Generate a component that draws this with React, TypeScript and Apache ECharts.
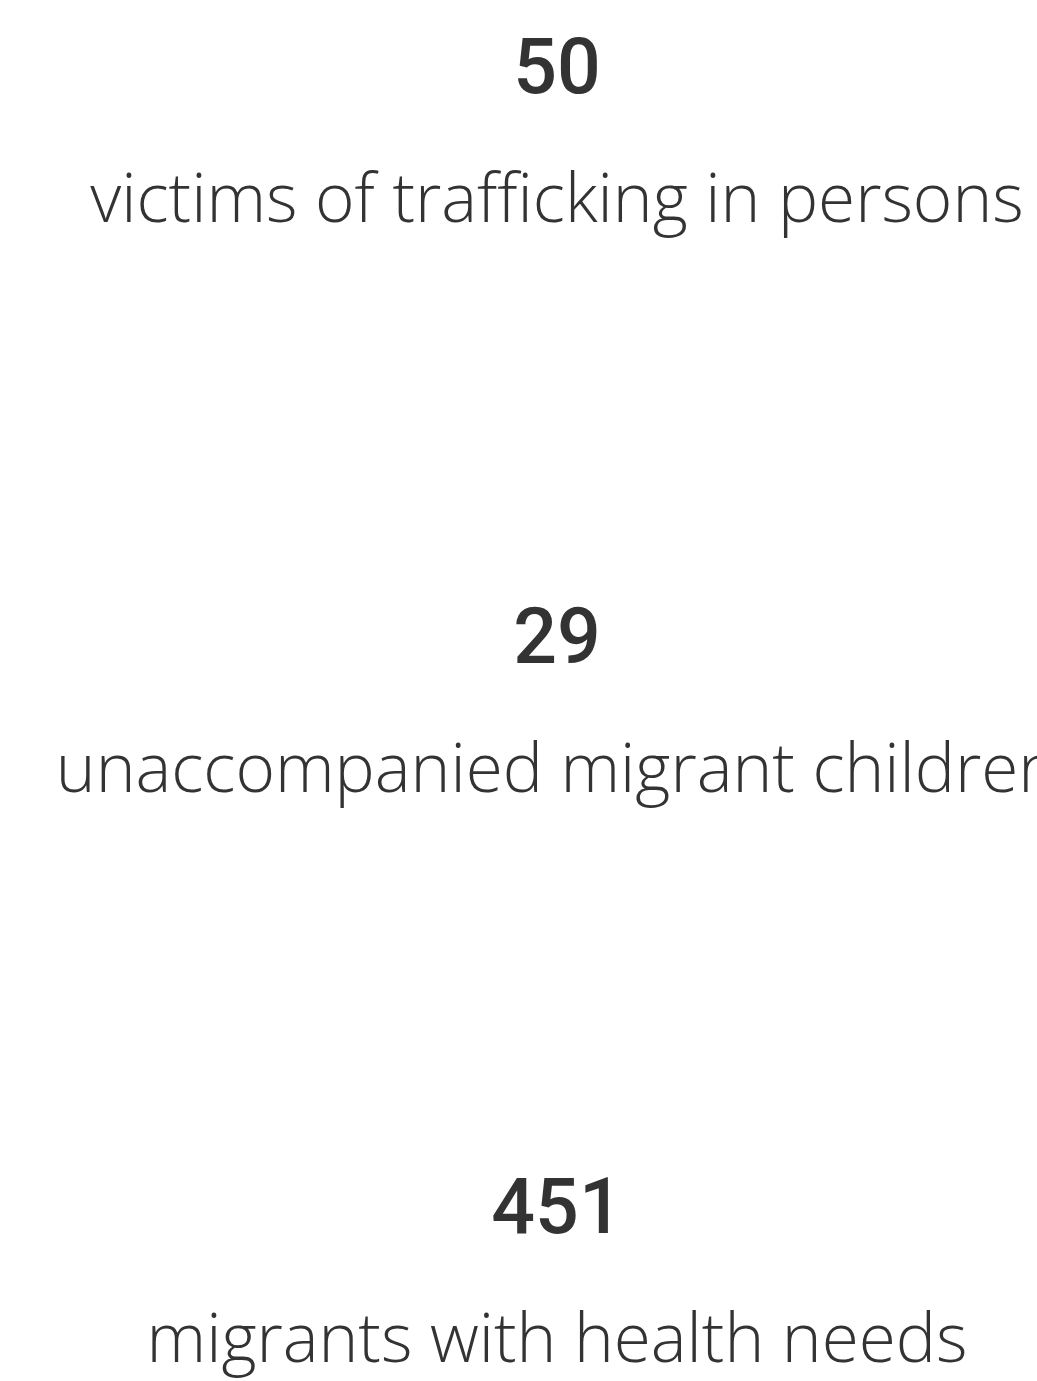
import React, { useEffect, useRef } from "react";
import * as echarts from "echarts";

const values = [50, 29, 451];
const labels = [
  "victims of trafficking in persons",
  "unaccompanied migrant children",
  "migrants with health needs",
];

const CENTER_X = 557;
const ROW_SPACING = 570;
const NUMBER_Y = 67;
const LABEL_Y = 196;

export default function App() {
  const ref = useRef<HTMLDivElement>(null);
  useEffect(() => {
    const chart = echarts.init(ref.current!, undefined, { renderer: "svg" });
    const elements: any[] = [];
    values.forEach((v, i) => {
      elements.push({
        type: "text",
        x: CENTER_X,
        y: NUMBER_Y + i * ROW_SPACING,
        style: {
          text: String(v),
          fill: "#333333",
          font: '500 77px Roboto, "DejaVu Sans", sans-serif',
          align: "center",
          verticalAlign: "middle",
        },
      });
      elements.push({
        type: "text",
        x: CENTER_X,
        y: LABEL_Y + i * ROW_SPACING,
        style: {
          text: labels[i],
          fill: "#333333",
          font: '300 67.5px "Open Sans", sans-serif',
          align: "center",
          verticalAlign: "middle",
        },
      });
    });
    chart.setOption({
      animation: false,
      graphic: { elements },
    });
    return () => chart.dispose();
  }, []);
  return (
    <div
      ref={ref}
      style={{ position: "fixed", left: 0, top: 0, width: 1037, height: 1381, background: "#ffffff" }}
    />
  );
}
